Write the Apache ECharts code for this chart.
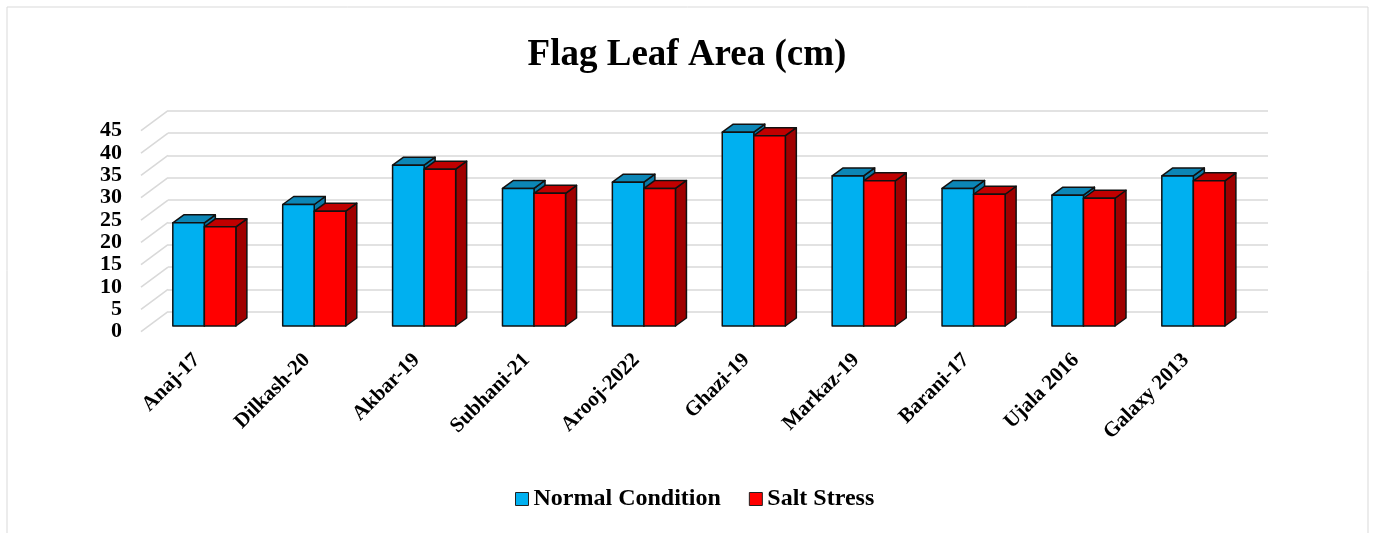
<!DOCTYPE html>
<html>
<head>
<meta charset="utf-8">
<script src="https://cdn.jsdelivr.net/npm/echarts@6/dist/echarts.min.js"></script>
<style>html,body{margin:0;padding:0;background:#fff}#c{width:1374px;height:533px}</style>
</head>
<body>
<div id="c"></div>
<script>
const categories = ['Anaj-17','Dilkash-20','Akbar-19','Subhani-21','Arooj-2022','Ghazi-19','Markaz-19','Barani-17','Ujala 2016','Galaxy 2013'];
const normalCondition = [23.1, 27.2, 36.0, 30.8, 32.2, 43.4, 33.6, 30.8, 29.3, 33.6];
const saltStress = [22.2, 25.7, 35.1, 29.7, 30.8, 42.6, 32.5, 29.5, 28.6, 32.5];
const yTicks = [0, 5, 10, 15, 20, 25, 30, 35, 40, 45];
const seriesNames = ['Normal Condition', 'Salt Stress'];

const FONT = 'Liberation Serif';
const DX = 11, DY = 8;
const palettes = [
  {front: '#00B0F0', top: '#0C86B6', side: '#0A79A6'},
  {front: '#FF0000', top: '#C00000', side: '#A00000'}
];

function barRenderer(idx) {
  return function (params, api) {
    const x = api.value(0), v = api.value(1);
    const base = api.coord([x, 0]);
    const top = api.coord([x, v]);
    const band = api.size([1, 0])[0];
    const w = band * 0.287;
    const xl = idx === 0 ? base[0] - w : base[0];
    const xr = xl + w;
    const pal = palettes[idx];
    const stroke = {stroke: '#111', lineWidth: 1.5, lineJoin: 'round'};
    return {
      type: 'group',
      children: [
        {type: 'polygon', shape: {points: [[xr, top[1]], [xr + DX, top[1] - DY], [xr + DX, base[1] - DY], [xr, base[1]]]},
          style: Object.assign({fill: pal.side}, stroke)},
        {type: 'polygon', shape: {points: [[xl, top[1]], [xr, top[1]], [xr + DX, top[1] - DY], [xl + DX, top[1] - DY]]},
          style: Object.assign({fill: pal.top}, stroke)},
        {type: 'rect', shape: {x: xl, y: top[1], width: w, height: base[1] - top[1]},
          style: Object.assign({fill: pal.front}, stroke)}
      ]
    };
  };
}

const chart = echarts.init(document.getElementById('c'), null, {renderer: 'canvas'});
const option = {
  backgroundColor: '#fff',
  animation: false,
  title: {
    text: 'Flag Leaf Area (cm)', left: 'center', top: 32,
    textStyle: {fontFamily: FONT, fontWeight: 'bold', fontSize: 37, color: '#000'}
  },
  legend: {
    left: 510, top: 482,
    itemWidth: 13, itemHeight: 13, itemGap: 28,
    textStyle: {fontFamily: FONT, fontWeight: 'bold', fontSize: 24, color: '#000'},
    data: [
      {name: seriesNames[0], icon: 'rect', itemStyle: {color: palettes[0].front, borderColor: '#222', borderWidth: 1}},
      {name: seriesNames[1], icon: 'rect', itemStyle: {color: palettes[1].front, borderColor: '#222', borderWidth: 1}}
    ]
  },
  graphic: [{
    type: 'rect', shape: {x: 7, y: 7, width: 1361, height: 540},
    style: {fill: 'none', stroke: '#d9d9d9', lineWidth: 1}, silent: true, z: -10
  }],
  grid: [
    {left: 141, right: 106, top: 130.7, bottom: 201.3},   // 0: front label axis
    {left: 168, right: 106, top: 110.7, bottom: 221.3},   // 1: back wall
    {left: 149.4, right: 125.7, top: 125, bottom: 207},   // 2: bars
    {left: 141.9, right: 133.2, top: 125, bottom: 207}    // 3: category labels
  ],
  xAxis: [
    {gridIndex: 0, type: 'value', min: 0, max: 1, show: false},
    {gridIndex: 1, type: 'value', min: 0, max: 1, show: false},
    {gridIndex: 2, type: 'category', data: categories, show: false},
    {gridIndex: 3, type: 'category', data: categories,
      axisLine: {show: false}, axisTick: {show: false},
      axisLabel: {interval: 0, rotate: 45, margin: 31, fontFamily: FONT, fontWeight: 'bold', fontSize: 21, color: '#000'}}
  ],
  yAxis: [
    {gridIndex: 0, type: 'value', min: 0, max: 45, interval: 5,
      axisLine: {show: false}, axisTick: {show: false}, splitLine: {show: false},
      axisLabel: {margin: 19, fontFamily: FONT, fontWeight: 'bold', fontSize: 22, color: '#000'}},
    {gridIndex: 1, type: 'value', min: 0, max: 45, interval: 5,
      axisLine: {show: false}, axisTick: {show: false}, axisLabel: {show: false},
      splitLine: {show: true, lineStyle: {color: '#d9d9d9', width: 1.6}}},
    {gridIndex: 2, type: 'value', min: 0, max: 45, show: false},
    {gridIndex: 3, type: 'value', min: 0, max: 45, show: false}
  ],
  series: [
    {
      type: 'custom', name: 'diag', xAxisIndex: 1, yAxisIndex: 1, silent: true, z: 1,
      data: yTicks.map(t => [0, t]),
      renderItem: function (params, api) {
        const p = api.coord([0, api.value(1)]);
        return {type: 'line', shape: {x1: p[0], y1: p[1], x2: p[0] - 27, y2: p[1] + 20},
          style: {stroke: '#d9d9d9', lineWidth: 1.6}};
      }
    },
    {
      type: 'custom', name: seriesNames[0], xAxisIndex: 2, yAxisIndex: 2, z: 5,
      itemStyle: {color: palettes[0].front},
      data: normalCondition.map((v, i) => [i, v]),
      renderItem: barRenderer(0)
    },
    {
      type: 'custom', name: seriesNames[1], xAxisIndex: 2, yAxisIndex: 2, z: 5,
      itemStyle: {color: palettes[1].front},
      data: saltStress.map((v, i) => [i, v]),
      renderItem: barRenderer(1)
    }
  ]
};
chart.setOption(option);
</script>
</body>
</html>
